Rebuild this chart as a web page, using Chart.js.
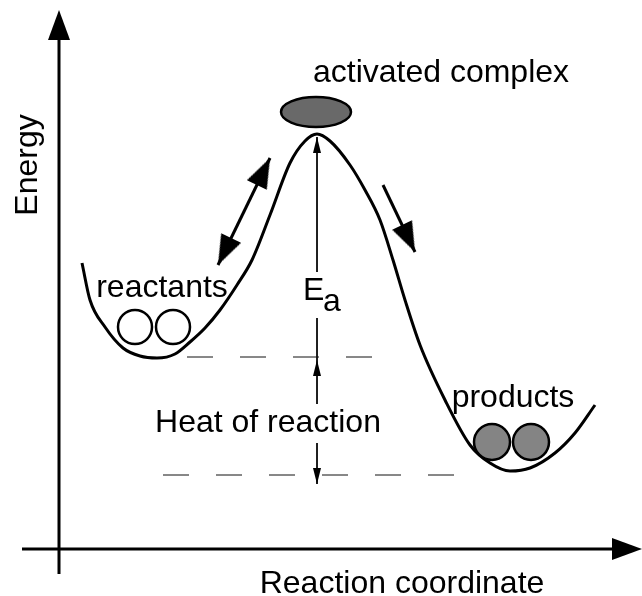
<!DOCTYPE html>
<html><head><meta charset="utf-8">
<script src="https://cdn.jsdelivr.net/npm/chart.js@4/dist/chart.umd.min.js"></script>
<style>html,body{margin:0;padding:0;background:#fff}#wrap{width:642px;height:596px;position:relative}</style>
</head><body><div id="wrap"><canvas id="c"></canvas></div>
<script>
// Reaction coordinate (x) and energy level (y, measured down from the top of the frame)
const curveX = [82, 90, 105, 123, 140, 157, 175, 190, 205, 220, 237, 252, 270, 290, 305, 317, 330, 350, 365, 380, 393, 405, 420, 445, 470, 490, 510, 530, 555, 575, 595];
const curveY = [263, 300, 327, 348, 356, 358, 354, 342, 328, 310, 285, 260, 215, 163, 141, 134, 141, 165, 190, 220, 260, 300, 345, 400, 445, 463, 471, 468, 453, 433, 405];

const reactantX = [135, 173];
const reactantY = [327, 327];
const productX = [492, 531];
const productY = [442, 442];
const complexX = [316];
const complexY = [112];

const reactantLevelX = [187, 375];
const reactantLevel = 357;
const productLevelX = [163, 457];
const productLevel = 475;

const eaX = 317;
const eaTop = 137;
const eaTextTop = 272;
const eaTextBottom = 318;
const heatTop = 360;
const heatTextTop = 404;
const heatTextBottom = 443;
const heatBottom = 484;

const yAxisX = 59;
const yAxisRange = [574, 10];
const xAxisY = 549;
const xAxisRange = [22, 642];

const leftArrowTip1 = [270, 158];
const leftArrowTip2 = [218, 265];
const rightArrowStart = [383, 185];
const rightArrowTip = [415, 252];

const labelTexts = ["Energy", "activated complex", "reactants", "products", "Heat of reaction", "Reaction coordinate"];
const labelX = [28, 441, 162, 513, 268, 402];
const labelY = [165, 82, 297, 407, 432, 593];
const labelRot = [-90, 0, 0, 0, 0, 0];

function makeHead(w, len) {
  const c = document.createElement('canvas');
  c.width = w; c.height = len * 2;
  const g = c.getContext('2d');
  g.fillStyle = '#000';
  g.beginPath();
  g.moveTo(w / 2, len);
  g.lineTo(w, len * 2);
  g.lineTo(0, len * 2);
  g.closePath();
  g.fill();
  return c;
}
function makeEllipse(w, h) {
  const c = document.createElement('canvas');
  c.width = w + 4; c.height = h + 4;
  const g = c.getContext('2d');
  g.beginPath();
  g.ellipse(c.width / 2, c.height / 2, w / 2, h / 2, 0, 0, Math.PI * 2);
  g.fillStyle = '#696969';
  g.fill();
  g.lineWidth = 2.5;
  g.strokeStyle = '#000';
  g.stroke();
  return c;
}
function ang(from, to) {
  return Math.atan2(to[0] - from[0], -(to[1] - from[1])) * 180 / Math.PI;
}

const bigHead = makeHead(22, 30);
const smallHead = makeHead(8, 16);
const ellipseImg = makeEllipse(70, 30);

const pts = (xs, ys) => xs.map((x, i) => ({x: x, y: ys[i]}));
const seg = (a, b) => [{x: a[0], y: a[1]}, {x: b[0], y: b[1]}];

const lineDs = (data, width, extra) => Object.assign({
  data: data, showLine: true, borderColor: '#000', borderWidth: width,
  pointRadius: 0, fill: false, order: 5
}, extra || {});

const heads = [
  {x: yAxisX, y: yAxisRange[1], r: 0, s: bigHead},
  {x: xAxisRange[1], y: xAxisY, r: 90, s: bigHead},
  {x: leftArrowTip1[0], y: leftArrowTip1[1], r: ang(leftArrowTip2, leftArrowTip1), s: bigHead},
  {x: leftArrowTip2[0], y: leftArrowTip2[1], r: ang(leftArrowTip1, leftArrowTip2), s: bigHead},
  {x: rightArrowTip[0], y: rightArrowTip[1], r: ang(rightArrowStart, rightArrowTip), s: bigHead},
  {x: eaX, y: eaTop, r: 0, s: smallHead},
  {x: eaX, y: heatTop, r: 0, s: smallHead},
  {x: eaX, y: heatBottom, r: 180, s: smallHead}
];

const labelPlugin = {
  id: 'labels',
  afterDatasetsDraw(chart) {
    const ctx = chart.ctx, xs = chart.scales.x, ys = chart.scales.y;
    ctx.save();
    ctx.fillStyle = '#000';
    ctx.font = '32px "Liberation Sans", Arial, sans-serif';
    ctx.textAlign = 'center';
    ctx.textBaseline = 'alphabetic';
    labelTexts.forEach((t, i) => {
      const px = xs.getPixelForValue(labelX[i]), py = ys.getPixelForValue(labelY[i]);
      ctx.save();
      ctx.translate(px, py);
      ctx.rotate(labelRot[i] * Math.PI / 180);
      if (labelRot[i] !== 0) ctx.textBaseline = 'middle';
      ctx.fillText(t, 0, 0);
      ctx.restore();
    });
    ctx.textAlign = 'left';
    ctx.fillText('E', xs.getPixelForValue(303), ys.getPixelForValue(300));
    ctx.fillText('a', xs.getPixelForValue(323), ys.getPixelForValue(311));
    ctx.restore();
  }
};

new Chart(document.getElementById('c'), {
  type: 'scatter',
  data: {
    datasets: [
      lineDs(pts(curveX, curveY), 3, {cubicInterpolationMode: 'monotone', order: 4}),
      lineDs(seg([yAxisX, yAxisRange[0]], [yAxisX, yAxisRange[1] + 25]), 3),
      lineDs(seg([xAxisRange[0], xAxisY], [xAxisRange[1] - 20, xAxisY]), 3),
      lineDs(seg(leftArrowTip1, leftArrowTip2), 3),
      lineDs(seg(rightArrowStart, rightArrowTip), 3),
      lineDs(seg([reactantLevelX[0], reactantLevel], [reactantLevelX[1], reactantLevel]), 1, {borderColor: '#111', borderDash: [26, 27]}),
      lineDs(seg([productLevelX[0], productLevel], [productLevelX[1], productLevel]), 1, {borderColor: '#111', borderDash: [26, 27]}),
      lineDs(seg([eaX, eaTop], [eaX, eaTextTop]), 1),
      lineDs(seg([eaX, eaTextBottom], [eaX, heatTextTop]), 1),
      lineDs(seg([eaX, heatTextBottom], [eaX, heatBottom]), 1),
      {
        data: pts(reactantX, reactantY), pointRadius: 17, pointBorderWidth: 2.5,
        pointBorderColor: '#000', pointBackgroundColor: '#fff', order: 2
      },
      {
        data: pts(productX, productY), pointRadius: 18, pointBorderWidth: 2.5,
        pointBorderColor: '#000', pointBackgroundColor: '#848484', order: 2
      },
      {
        data: pts(complexX, complexY), pointRadius: 5, pointStyle: ellipseImg, order: 2
      },
      {
        data: heads.map(h => ({x: h.x, y: h.y})), pointRadius: 5,
        pointStyle: heads.map(h => h.s), rotation: heads.map(h => h.r), order: 1
      }
    ]
  },
  options: {
    responsive: true, maintainAspectRatio: false, animation: false,
    devicePixelRatio: 1,
    layout: {padding: 0, autoPadding: false},
    events: [],
    clip: false,
    plugins: {legend: {display: false}, tooltip: {enabled: false}},
    scales: {
      x: {type: 'linear', min: 0, max: 642, display: false},
      y: {type: 'linear', min: 0, max: 596, reverse: true, display: false}
    }
  },
  plugins: [labelPlugin]
});
</script>
</body></html>
